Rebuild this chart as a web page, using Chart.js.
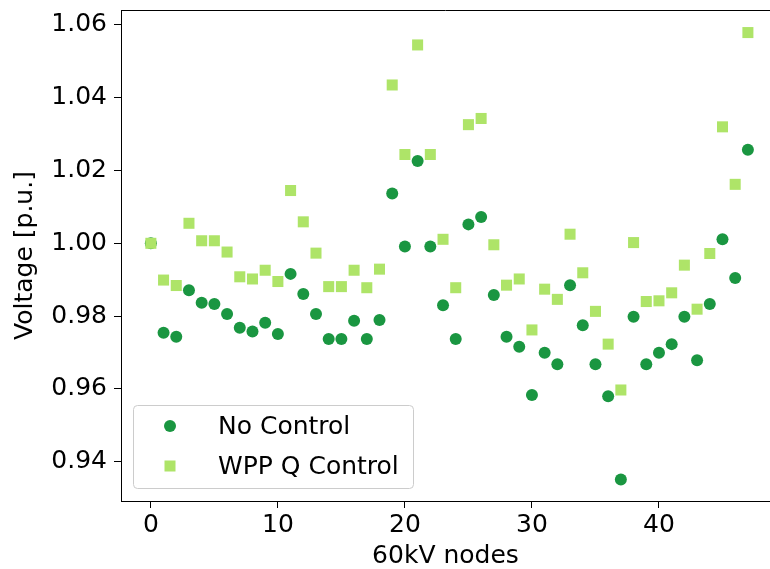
<!DOCTYPE html>
<html>
<head>
<meta charset="utf-8">
<script src="https://cdn.jsdelivr.net/npm/chart.js@4/dist/chart.umd.min.js"></script>
<style>
  html, body { margin: 0; padding: 0; background: #fff; overflow: hidden; }
  #wrap { width: 770px; height: 569px; }
  #voltage-chart { display: block; }
</style>
</head>
<body>
<div id="wrap"><canvas id="voltage-chart" width="770" height="569"></canvas></div>
<script>
// node index on the x axis
const nodes = [];
for (let i = 0; i <= 47; i++) nodes.push(i);

// voltages (p.u.)
const noControl = [
  1.0000, 0.9754, 0.9743, 0.9871, 0.9837, 0.9833, 0.9806, 0.9768, 0.9758, 0.9782,
  0.9751, 0.9916, 0.9861, 0.9806, 0.9737, 0.9737, 0.9787, 0.9737, 0.9789, 1.0137,
  0.9991, 1.0226, 0.9991, 0.9830, 0.9737, 1.0052, 1.0072, 0.9858, 0.9743, 0.9716,
  0.9583, 0.9699, 0.9668, 0.9885, 0.9775, 0.9668, 0.9580, 0.9351, 0.9798, 0.9668,
  0.9699, 0.9723, 0.9798, 0.9679, 0.9833, 1.0011, 0.9905, 1.0257
];
const wppQControl = [
  1.0000, 0.9899, 0.9884, 1.0055, 1.0007, 1.0007, 0.9976, 0.9908, 0.9902, 0.9926,
  0.9895, 1.0145, 1.0059, 0.9973, 0.9881, 0.9881, 0.9926, 0.9878, 0.9929, 1.0435,
  1.0244, 1.0545, 1.0244, 1.0011, 0.9878, 1.0326, 1.0343, 0.9996, 0.9885, 0.9902,
  0.9762, 0.9874, 0.9846, 1.0025, 0.9919, 0.9813, 0.9723, 0.9597, 1.0002, 0.9840,
  0.9842, 0.9864, 0.9940, 0.9819, 0.9972, 1.0320, 1.0162, 1.0579
];

const xTicks = [0, 10, 20, 30, 40];
const yTicks = [0.94, 0.96, 0.98, 1.00, 1.02, 1.04, 1.06];
const seriesNames = ['No Control', 'WPP Q Control'];

const darkGreen = '#1a9641';
const lightGreen = 'rgb(174,228,104)';
const FONT = 'DejaVu Sans';

Chart.defaults.color = '#000';
Chart.defaults.font.family = FONT;

function toPoints(vals) {
  return nodes.map((n, i) => ({ x: n, y: vals[i] }));
}

// no extra room for half tick labels, the box is fixed by hand
function noPad(s) {
  s.paddingTop = 0;
  s.paddingBottom = 0;
  s.paddingLeft = 0;
  s.paddingRight = 0;
}

// white background + top spine + legend box inside the plot
const extras = {
  id: 'extras',
  beforeDraw(chart) {
    const ctx = chart.ctx;
    ctx.save();
    ctx.fillStyle = '#fff';
    ctx.fillRect(0, 0, chart.width, chart.height);
    ctx.restore();
  },
  afterDraw(chart) {
    const ctx = chart.ctx;
    const a = chart.chartArea;
    ctx.save();
    // figure is cut off on the right, so no right spine
    ctx.fillStyle = '#fff';
    ctx.fillRect(a.right - 4, a.top, 4, a.bottom - a.top - 1);

    ctx.strokeStyle = '#000';
    ctx.lineWidth = 1;
    ctx.beginPath();
    ctx.moveTo(a.left, a.top + 0.5);
    ctx.lineTo(a.right, a.top + 0.5);
    ctx.stroke();

    // legend
    const bx = 133.5, by = 405.5, bw = 280, bh = 83;
    ctx.fillStyle = 'rgba(255,255,255,0.8)';
    ctx.strokeStyle = '#cccccc';
    ctx.beginPath();
    ctx.roundRect(bx, by, bw, bh, 4);
    ctx.fill();
    ctx.stroke();

    const rows = [426, 466];
    ctx.font = '25px "' + FONT + '"';
    ctx.textBaseline = 'middle';
    ctx.textAlign = 'left';
    chart.data.datasets.forEach((ds, i) => {
      const y = rows[i];
      ctx.fillStyle = ds.backgroundColor;
      if (ds.pointStyle === 'rect') {
        ctx.fillRect(170 - 5.5, y - 5.5, 11, 11);
      } else {
        ctx.beginPath();
        ctx.arc(170, y, 6, 0, Math.PI * 2);
        ctx.fill();
      }
      ctx.fillStyle = '#000';
      ctx.fillText(ds.label, 218, y + 1);
    });
    ctx.restore();
  }
};

new Chart('voltage-chart', {
  type: 'scatter',
  data: {
    datasets: [{
      label: seriesNames[0],
      data: toPoints(noControl),
      pointStyle: 'circle',
      pointRadius: 6,
      pointHoverRadius: 6,
      backgroundColor: darkGreen,
      borderWidth: 0,
      order: 1
    }, {
      label: seriesNames[1],
      data: toPoints(wppQControl),
      pointStyle: 'rect',
      pointRadius: 7.8,
      pointHoverRadius: 7.8,
      backgroundColor: lightGreen,
      borderWidth: 0,
      order: 0
    }]
  },
  options: {
    responsive: false,
    animation: false,
    layout: { autoPadding: false, padding: { top: 10, left: 0, right: 0, bottom: 0 } },
    plugins: {
      legend: { display: false },
      tooltip: { enabled: false }
    },
    scales: {
      x: {
        type: 'linear',
        min: -2.35,
        max: 48.74,
        afterFit: (s) => { s.height = 68; noPad(s); },
        afterBuildTicks: (s) => { s.ticks = xTicks.map(v => ({ value: v })); },
        grid: { drawOnChartArea: false, drawTicks: true, tickLength: 7, tickColor: '#000' },
        border: { color: '#000', width: 1 },
        ticks: { font: { size: 25 }, padding: 2, maxRotation: 0, callback: (v) => String(v) },
        title: { display: true, text: '60kV nodes', font: { size: 25, lineHeight: 1 }, padding: { top: 0, bottom: 0 } }
      },
      y: {
        type: 'linear',
        min: 0.9292,
        max: 1.0641,
        afterFit: (s) => { s.width = 121; noPad(s); },
        afterBuildTicks: (s) => { s.ticks = yTicks.map(v => ({ value: v })); },
        grid: { drawOnChartArea: false, drawTicks: true, tickLength: 7, tickColor: '#000' },
        border: { color: '#000', width: 1 },
        ticks: { font: { size: 25 }, padding: 7, callback: (v) => v.toFixed(2) },
        title: { display: true, text: 'Voltage [p.u.]', font: { size: 25, lineHeight: 1.2 }, padding: { top: 10, bottom: 0 } }
      }
    }
  },
  plugins: [extras]
});
</script>
</body>
</html>
